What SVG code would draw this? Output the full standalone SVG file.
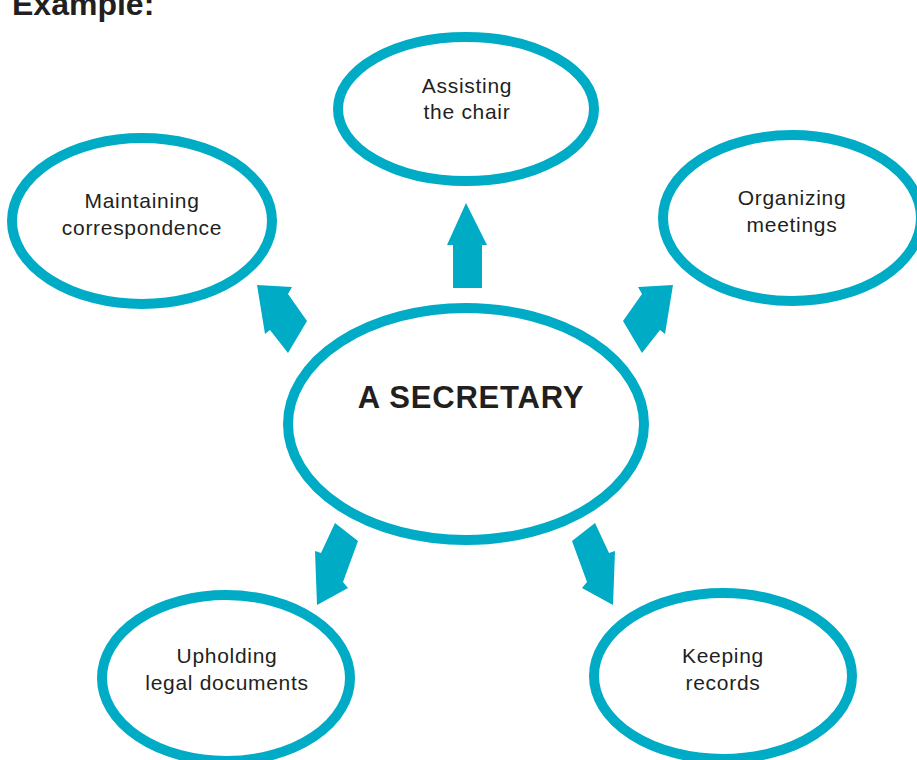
<svg xmlns="http://www.w3.org/2000/svg" width="917" height="760" viewBox="0 0 917 760">
<style>
.bg{fill:#ffffff}
.node ellipse{fill:#ffffff;stroke:#00abc6;stroke-width:10}
.lbl{font-family:"Liberation Sans",Arial,Helvetica,sans-serif;font-size:21px;letter-spacing:0.7px;fill:#231f20;text-anchor:middle}
.main{font-family:"Liberation Sans",Arial,Helvetica,sans-serif;font-size:31px;font-weight:bold;letter-spacing:0.8px;fill:#231f20;text-anchor:middle}
.title{font-family:"Liberation Sans",Arial,Helvetica,sans-serif;font-size:32px;font-weight:bold;fill:#231f20}
.arrow{fill:#00abc6}
</style>
<rect class="bg" x="0" y="0" width="917" height="760"/>
<text class="title" x="12" y="15">Example:</text>

<g id="connectors">
  <polygon class="arrow" points="466,203 487,245 482,245 482,288 453,288 453,245 447,245"/>
  <polygon class="arrow" points="257,285 292,287 288,294 307,321 288,353 270,330 265,334"/>
  <polygon class="arrow" points="673,285 638,287 642,294 623,321 642,353 660,330 665,334"/>
  <polygon class="arrow" points="335,523 358,541 343,582 348,588 317,605 315,551 321,553"/>
  <polygon class="arrow" points="595,523 572,541 587,582 582,588 613,605 615,551 609,553"/>
</g>

<g id="node-center" class="node">
  <ellipse cx="466" cy="424" rx="178" ry="116"/>
  <text class="main" x="471" y="408">A SECRETARY</text>
</g>

<g id="node-chair" class="node">
  <ellipse cx="466" cy="109" rx="128" ry="72"/>
  <text class="lbl" x="467" y="93">Assisting</text>
  <text class="lbl" x="467" y="119">the chair</text>
</g>

<g id="node-correspondence" class="node">
  <ellipse cx="142" cy="221" rx="130" ry="83"/>
  <text class="lbl" x="142" y="208">Maintaining</text>
  <text class="lbl" x="142" y="235">correspondence</text>
</g>

<g id="node-meetings" class="node">
  <ellipse cx="792" cy="218" rx="129" ry="83"/>
  <text class="lbl" x="792" y="205">Organizing</text>
  <text class="lbl" x="792" y="232">meetings</text>
</g>

<g id="node-legal" class="node">
  <ellipse cx="226" cy="678" rx="124" ry="83"/>
  <text class="lbl" x="227" y="663">Upholding</text>
  <text class="lbl" x="227" y="690">legal documents</text>
</g>

<g id="node-records" class="node">
  <ellipse cx="723" cy="676" rx="129" ry="83"/>
  <text class="lbl" x="723" y="663">Keeping</text>
  <text class="lbl" x="723" y="690">records</text>
</g>
</svg>
